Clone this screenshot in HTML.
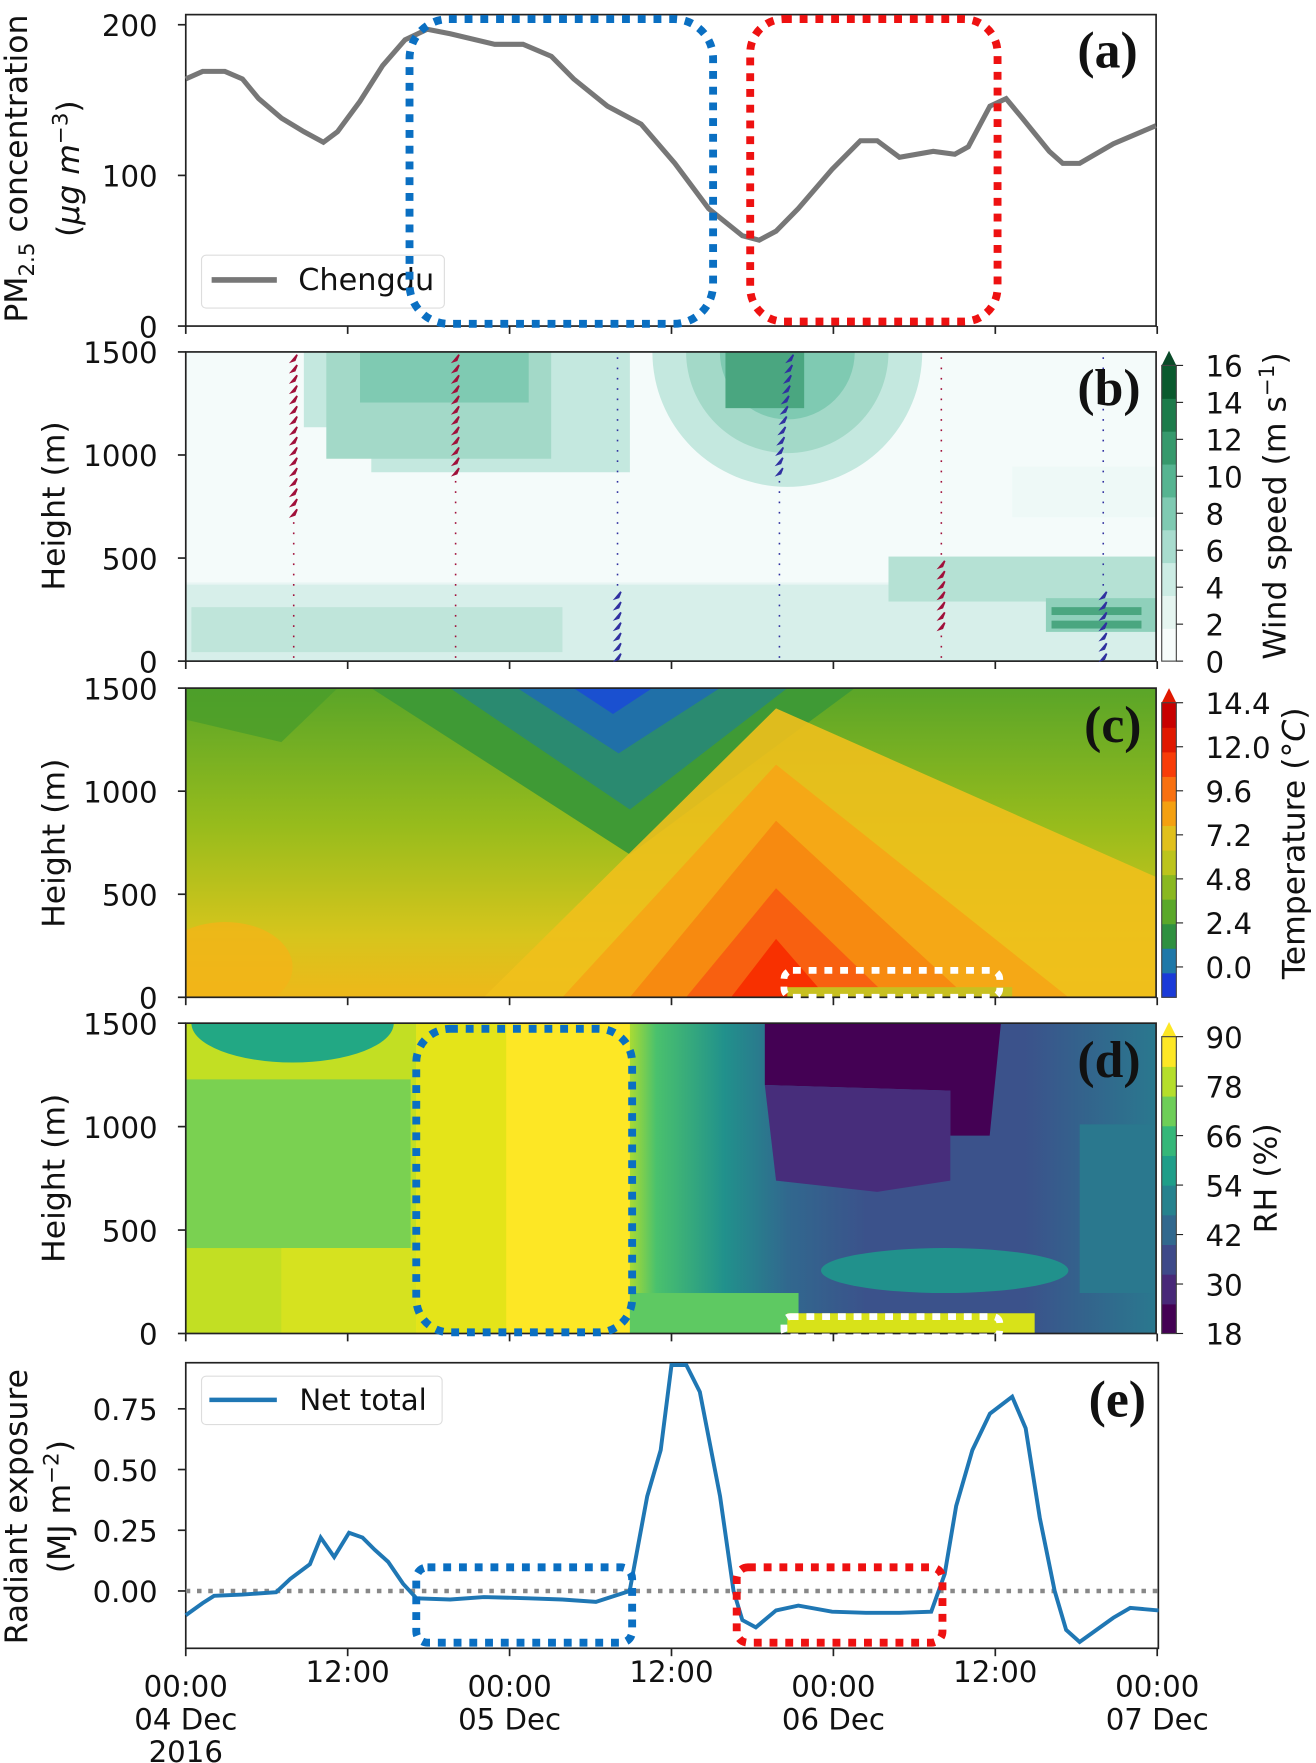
<!DOCTYPE html>
<html><head><meta charset="utf-8"><style>
html,body{margin:0;padding:0;background:#fff}
svg{display:block}
text{font-family:"DejaVu Sans","Liberation Sans",sans-serif;fill:#111}
.pl{font-family:"Liberation Serif",serif;font-weight:bold;font-size:46px}
</style></head><body>
<svg id="fig" width="1316" height="1763" viewBox="0 0 1170 1568" xmlns="http://www.w3.org/2000/svg">
<defs>
<linearGradient id="cv" x1="0" y1="0" x2="0" y2="1"><stop offset="0" stop-color="#5aa528"/><stop offset="0.45" stop-color="#98bc1c"/><stop offset="0.8" stop-color="#d6c51c"/><stop offset="1" stop-color="#eeb81a"/></linearGradient>
<linearGradient id="dh" x1="0" y1="0" x2="1" y2="0"><stop offset="0" stop-color="#a9db33"/><stop offset="0.05" stop-color="#4ac16d"/><stop offset="0.18" stop-color="#21918c"/><stop offset="0.3" stop-color="#31688e"/><stop offset="0.45" stop-color="#3b528b"/><stop offset="0.75" stop-color="#3b528b"/><stop offset="1" stop-color="#2a788e"/></linearGradient>
<clipPath id="cb"><rect x="165" y="313" width="863" height="275"/></clipPath>
<clipPath id="cc"><rect x="165" y="612" width="863" height="275"/></clipPath>
<clipPath id="cd"><rect x="165" y="910" width="863" height="276"/></clipPath>
</defs>

<!-- Panel a -->
<g>
<rect x="165" y="13" width="863" height="277" fill="#fff" stroke="#222" stroke-width="1.5"/>
<path id="pmline" fill="none" stroke="#777" stroke-width="4.5"/>
<g id="aTicks"></g>
<text x="24" y="150" font-size="28" transform="rotate(-90 24 150)" text-anchor="middle">PM<tspan font-size="19" dy="6">2.5</tspan><tspan dy="-6"> concentration</tspan></text>
<text x="70" y="150" font-size="28" transform="rotate(-90 70 150)" text-anchor="middle">(<tspan font-style="italic">μg m</tspan><tspan font-size="19" dy="-10">−3</tspan><tspan dy="10">)</tspan></text>
<rect x="179" y="227" width="216" height="47" rx="4" fill="#fff" stroke="#ddd"/>
<line x1="188" y1="249" x2="246" y2="249" stroke="#777" stroke-width="5"/>
<text x="265" y="258" font-size="27">Chengdu</text>
<rect x="364" y="17" width="270" height="271" rx="35" fill="none" stroke="#0a6fc2" stroke-width="7" stroke-dasharray="7 7"/>
<rect x="667" y="17" width="220" height="269" rx="30" fill="none" stroke="#ee1111" stroke-width="7" stroke-dasharray="7 7"/>
<text x="958" y="60" class="pl">(a)</text>
</g>

<!-- Panel b -->
<g>
<g clip-path="url(#cb)">
<rect x="165" y="313" width="863" height="275" fill="#e8f5f4"/>
<rect x="165" y="313" width="863" height="205" fill="#f4fbfa"/>
<polygon points="270,313 560,313 560,420 330,420 330,380 270,380" fill="#c4e8df"/>
<rect x="290" y="313" width="200" height="95" fill="#a3d9c8"/>
<rect x="320" y="313" width="150" height="45" fill="#7fcab2"/>
<circle cx="700" cy="313" r="120" fill="#c4e8df"/>
<circle cx="700" cy="313" r="90" fill="#a3d9c8"/>
<circle cx="700" cy="313" r="60" fill="#7fcab2"/>
<rect x="645" y="313" width="70" height="50" fill="#4aa680"/>
<rect x="165" y="520" width="863" height="68" fill="#d7efea"/>
<rect x="170" y="540" width="330" height="40" fill="#bfe5da"/>
<rect x="790" y="495" width="238" height="40" fill="#b5e1d4"/>
<rect x="930" y="532" width="98" height="30" fill="#8fd0bb"/>
<rect x="935" y="540" width="80" height="7" fill="#4aa680"/>
<rect x="935" y="552" width="80" height="7" fill="#4aa680"/>
<rect x="900" y="415" width="128" height="45" fill="#eef9f7"/>
</g>
<rect x="165" y="313" width="863" height="275" fill="none" stroke="#222" stroke-width="1.5"/>
<g id="barbs"></g>
<g id="bTicks"></g>
<text x="57" y="450" font-size="28" transform="rotate(-90 57 450)" text-anchor="middle">Height (m)</text>
<text x="958" y="360" class="pl">(b)</text>
<g id="cbarB"></g>
<text x="1143" y="450" font-size="28" transform="rotate(-90 1143 450)" text-anchor="middle">Wind speed (m s<tspan font-size="19" dy="-10">−1</tspan><tspan dy="10">)</tspan></text>
</g>

<!-- Panel c -->
<g>
<g clip-path="url(#cc)">
<rect x="165" y="612" width="863" height="275" fill="url(#cv)"/>
<polygon points="165,640 250,660 300,612 165,612" fill="#4a9e2a" opacity="0.8"/>
<polygon points="330,612 760,612 560,760" fill="#3f9a35"/>
<polygon points="400,612 700,612 560,720" fill="#2a8a70"/>
<polygon points="460,612 640,612 550,670" fill="#2070a8"/>
<polygon points="510,612 580,612 545,635" fill="#1a50d0"/>
<polygon points="430,887 690,630 1028,780 1028,887" fill="#f0c01c" opacity="0.9"/>
<polygon points="500,887 690,680 950,887" fill="#f5a816"/>
<polygon points="560,887 690,730 860,887" fill="#f78a10"/>
<polygon points="610,887 690,790 790,887" fill="#f86010"/>
<polygon points="650,887 690,835 735,887" fill="#f83000"/>
<ellipse cx="200" cy="860" rx="60" ry="40" fill="#f2b418" opacity="0.8"/>
<rect x="700" y="878" width="200" height="9" fill="#c8c020"/>
</g>
<rect x="165" y="612" width="863" height="275" fill="none" stroke="#222" stroke-width="1.5"/>
<rect x="697" y="863" width="192" height="24" rx="8" fill="none" stroke="#fff" stroke-width="6" stroke-dasharray="7 7"/>
<g id="cTicks"></g>
<text x="57" y="750" font-size="28" transform="rotate(-90 57 750)" text-anchor="middle">Height (m)</text>
<text x="964" y="660" class="pl">(c)</text>
<g id="cbarC"></g>
<text x="1160" y="750" font-size="28" transform="rotate(-90 1160 750)" text-anchor="middle">Temperature (°<tspan font-style="italic">C</tspan>)</text>
</g>

<!-- Panel d -->
<g>
<g clip-path="url(#cd)">
<rect x="165" y="910" width="863" height="276" fill="#c2df23"/>
<rect x="165" y="960" width="200" height="150" fill="#7ad151"/>
<ellipse cx="260" cy="910" rx="90" ry="35" fill="#22a884"/>
<rect x="250" y="1110" width="120" height="76" fill="#d6e21f"/>
<rect x="370" y="910" width="195" height="276" fill="#fde725"/>
<rect x="370" y="910" width="80" height="276" fill="#e4e419"/>
<rect x="560" y="910" width="468" height="276" fill="url(#dh)"/>
<polygon points="680,910 890,910 880,1010 845,1010 845,970 680,965" fill="#440154"/>
<polygon points="680,965 845,970 845,1050 780,1060 690,1050" fill="#472d7b"/>
<ellipse cx="840" cy="1130" rx="110" ry="20" fill="#21918c"/>
<rect x="560" y="1150" width="150" height="36" fill="#5ec962"/>
<rect x="700" y="1168" width="220" height="18" fill="#d8e219"/>
<rect x="960" y="1000" width="68" height="150" fill="#2a788e"/>
</g>
<rect x="165" y="910" width="863" height="276" fill="none" stroke="#222" stroke-width="1.5"/>
<rect x="370" y="915" width="192" height="270" rx="30" fill="none" stroke="#0a6fc2" stroke-width="7" stroke-dasharray="7 7"/>
<rect x="697" y="1171" width="192" height="18" rx="6" fill="none" stroke="#fff" stroke-width="6" stroke-dasharray="7 7"/>
<g id="dTicks"></g>
<text x="57" y="1048" font-size="28" transform="rotate(-90 57 1048)" text-anchor="middle">Height (m)</text>
<text x="958" y="958" class="pl">(d)</text>
<g id="cbarD"></g>
<text x="1135" y="1048" font-size="28" transform="rotate(-90 1135 1048)" text-anchor="middle">RH (%)</text>
</g>

<!-- Panel e -->
<g>
<rect x="165" y="1212" width="865" height="254" fill="#fff" stroke="#222" stroke-width="1.5"/>
<line x1="165" y1="1415" x2="1030" y2="1415" stroke="#888" stroke-width="4" stroke-dasharray="4 6"/>
<path id="netline" fill="none" stroke="#1f77b4" stroke-width="3.5"/>
<rect x="179" y="1224" width="214" height="43" rx="4" fill="#fff" stroke="#ddd"/>
<line x1="186" y1="1245" x2="246" y2="1245" stroke="#1f77b4" stroke-width="4"/>
<text x="266" y="1254" font-size="26">Net total</text>
<rect x="370" y="1394" width="192" height="67" rx="10" fill="none" stroke="#0a6fc2" stroke-width="7" stroke-dasharray="7 7"/>
<rect x="655" y="1394" width="183" height="67" rx="10" fill="none" stroke="#ee1111" stroke-width="7" stroke-dasharray="7 7"/>
<g id="eTicks"></g>
<text x="24" y="1340" font-size="28" transform="rotate(-90 24 1340)" text-anchor="middle">Radiant exposure</text>
<text x="62" y="1340" font-size="28" transform="rotate(-90 62 1340)" text-anchor="middle">(MJ m<tspan font-size="19" dy="-10">−2</tspan><tspan dy="10">)</tspan></text>
<text x="968" y="1260" class="pl">(e)</text>
<g id="xLabels"></g>
</g>
</svg>
<script>
const pmHours=[0,1.25,2.9,4.2,5.4,7.1,8.75,10.2,11.25,12.9,14.6,16.25,17.9,19.6,22.9,25,27.1,28.75,31.25,33.75,36.25,38.75,41.25,42.5,43.75,45.4,47.9,50,51.25,52.9,55.4,57,58,59.6,60.8,62,64,65,66.25,68.75,71.9];
const pmValues=[164,169,169,164,151,138,129,122,129,149,173,190,197,194,187,187,179,164,146,134,108,78,60,57,63,78,104,123,123,112,116,114,119,146,151,138,116,108,108,121,133];
const netHours=[0,1.25,2.1,4.2,6.7,7.75,9.2,10,11,12.1,13.1,14,15,16.1,17.1,19.6,22.1,25.4,27.9,30.4,32.9,34.2,35.2,36,37.1,38.1,39.6,40.6,41.25,42.25,43.75,45.4,47.9,50.4,52.9,55.25,56.25,57.1,58.3,59.6,61.25,62.25,63.3,64.4,65.25,66.25,67.5,68.75,70,72.1];
const netValues=[-0.10,-0.05,-0.02,-0.015,-0.005,0.05,0.11,0.22,0.14,0.24,0.22,0.17,0.12,0.03,-0.03,-0.035,-0.025,-0.03,-0.035,-0.045,0,0.39,0.58,0.93,0.93,0.82,0.39,0,-0.12,-0.15,-0.08,-0.06,-0.085,-0.09,-0.09,-0.085,0.07,0.35,0.58,0.73,0.80,0.67,0.30,0,-0.16,-0.21,-0.16,-0.11,-0.07,-0.08];
const pmTicks=[0,100,200];
const heightTicks=[0,500,1000,1500];
const netTicks=[0,0.25,0.5,0.75];
const netTickLabels=["0.00","0.25","0.50","0.75"];
const windTicks=[0,2,4,6,8,10,12,14,16];
const tempTicks=["0.0","2.4","4.8","7.2","9.6","12.0","14.4"];
const rhTicks=[18,30,42,54,66,78,90];
const xMajor=[0,24,48,72];
const xMajorLabels=[["00:00","04 Dec","2016"],["00:00","05 Dec"],["00:00","06 Dec"],["00:00","07 Dec"]];
const xMinor=[12,36,60];
const barbHours=[8,20,32,44,56,68];
const barbColors=["#a0103a","#a0103a","#3030a0","#3030a0","#a0103a","#3030a0"];

const NS="http://www.w3.org/2000/svg";
const X=h=>165+h*12;
const yA=v=>290-v*1.34;
const yE=v=>1415-v*216;
function mk(tag,attrs,parent){const e=document.createElementNS(NS,tag);for(const k in attrs)e.setAttribute(k,attrs[k]);parent.appendChild(e);return e;}
function path(xs,ys,fx,fy){return xs.map((h,i)=>(i?"L":"M")+fx(h).toFixed(1)+","+fy(ys[i]).toFixed(1)).join(" ");}
document.getElementById('pmline').setAttribute('d',path(pmHours,pmValues,X,yA));
document.getElementById('netline').setAttribute('d',path(netHours,netValues,X,yE));

function yTicks(g,vals,labels,fy){
  vals.forEach((v,i)=>{const y=fy(v);
    const l=mk('line',{x1:158,y1:y,x2:165,y2:y,stroke:'#222','stroke-width':1.5},g);
    
    
    const t=mk('text',{x:140,y:y+10,'font-size':26,'text-anchor':'end'},g);t.textContent=labels[i];
    
    
  });
}
function xTickMarks(g,yb){
  xMajor.concat(xMinor).forEach(h=>{const l=mk('line',{x1:X(h),y1:yb,x2:X(h),y2:yb+7,stroke:'#222','stroke-width':1.5},g);
    
    });
}
yTicks(document.getElementById('aTicks'),pmTicks,pmTicks.map(String),yA);xTickMarks(document.getElementById('aTicks'),290);
const hB=v=>588-v*275/1500, hC=v=>887-v*275/1500, hD=v=>1186-v*276/1500;
yTicks(document.getElementById('bTicks'),heightTicks,heightTicks.map(String),hB);xTickMarks(document.getElementById('bTicks'),588);
yTicks(document.getElementById('cTicks'),heightTicks,heightTicks.map(String),hC);xTickMarks(document.getElementById('cTicks'),887);
yTicks(document.getElementById('dTicks'),heightTicks,heightTicks.map(String),hD);xTickMarks(document.getElementById('dTicks'),1186);
yTicks(document.getElementById('eTicks'),netTicks,netTickLabels,yE);xTickMarks(document.getElementById('eTicks'),1466);

const xl=document.getElementById('xLabels');
xMajor.forEach((h,i)=>{xMajorLabels[i].forEach((s,j)=>{const t=mk('text',{x:X(h),y:1509+j*29,'font-size':26,'text-anchor':'middle'},xl);t.textContent=s;
  
  });});
xMinor.forEach(h=>{const t=mk('text',{x:X(h),y:1496,'font-size':26,'text-anchor':'middle'},xl);t.textContent="12:00";
  
  });

// wind barbs
const bg=document.getElementById('barbs');
barbHours.forEach((h,i)=>{
  for(let z=20;z<=1500;z+=50){
    const x=X(h)+(i==3?(z>1000?(z-1000)/50:0):0), y=hB(z);
    const big=(i==1&&z>900)||(i==3&&z>900)||(i==0&&z>700)||(i==4&&z<500&&z>150)||(i==5&&z<350)||(i==2&&z<350);
    const a=mk('path',{d:big?`M${x-2},${y+3} L${x+3},${y-3} L${x+1},${y+2} Z`:`M${x-0.7},${y} L${x+0.7},${y}`,fill:barbColors[i],stroke:barbColors[i],'stroke-width':big?1.5:1.5},bg);
    
    
  }
});

function cbar(gid,y0,y1,colors,labels,tri,lo,hi){
  const g=document.getElementById(gid);const n=colors.length;const hh=(y1-y0)/n;
  colors.forEach((c,i)=>{mk('rect',{x:1033,y:y1-(i+1)*hh,width:13,height:hh+0.5,fill:c},g);});
  mk('path',{d:`M1033,${y0} L1039.5,${y0-13} L1046,${y0} Z`,fill:tri},g);
  mk('rect',{x:1033,y:y0,width:13,height:y1-y0,fill:'none',stroke:'#444','stroke-width':1},g);
  labels.forEach((s,i)=>{const yy=lo-i*(lo-hi)/(labels.length-1);
    mk('line',{x1:1046,y1:yy,x2:1052,y2:yy,stroke:'#222'},g);
    const t=mk('text',{x:1072,y:yy+10,'font-size':26},g);t.textContent=s;
    
    });
}
cbar('cbarB',325,588,["#f7fcfb","#e5f5f0","#ccece4","#a8dcce","#7fcab2","#56b491","#36996c","#1d7b4b","#0a5a2e"],windTicks.map(String),"#0a4a28",588,325);
cbar('cbarC',625,887,["#1a3ad8","#1f78a8","#2e9040","#5aa82a","#8ab820","#bcc41c","#e0c01c","#f4a010","#f87010","#f83c08","#e01800","#c80000"],tempTicks,"#e01800",860,625);
cbar('cbarD',922,1186,["#440154","#482878","#3e4989","#31688e","#26828e","#1f9e89","#35b779","#6ece58","#b5de2b","#fde725"],rhTicks.map(String),"#fde725",1186,922);
</script>
</body></html>
